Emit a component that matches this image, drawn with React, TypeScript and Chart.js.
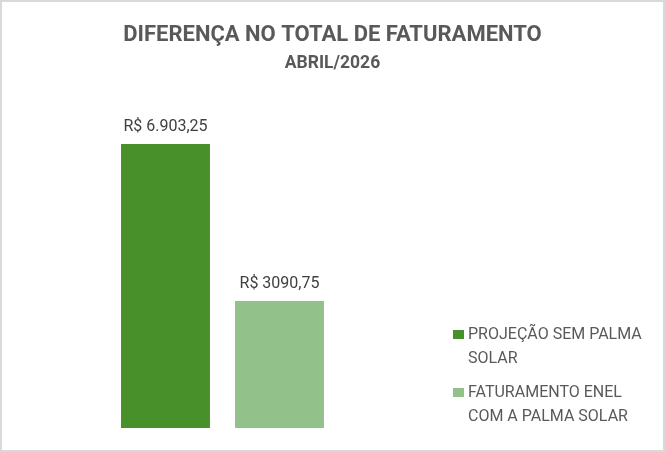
import React, { useEffect, useRef } from "react";
import { Chart, registerables } from "chart.js";

Chart.register(...registerables);

const categories: string[] = ["ABRIL/2026"];
const seriesNames: string[][] = [
  ["PROJEÇÃO SEM PALMA", "SOLAR"],
  ["FATURAMENTO ENEL", "COM A PALMA SOLAR"],
];
const projecaoValues: number[] = [6903.25];
const enelValues: number[] = [3090.75];
const valueLabels: string[][] = [["R$ 6.903,25"], ["R$ 3090,75"]];
const seriesColors: string[] = ["#47902A", "#93C18A"];
const titleText = "DIFERENÇA NO TOTAL DE FATURAMENTO";
const subtitleText = "ABRIL/2026";

const FONT = "Roboto, 'Liberation Sans', sans-serif";

const headerPlugin = {
  id: "header",
  afterDraw(chart: any) {
    const ctx = chart.ctx;
    const cx = chart.width / 2;
    ctx.save();
    ctx.fillStyle = "#595959";
    ctx.textAlign = "center";
    ctx.textBaseline = "alphabetic";
    ctx.font = `bold 22px ${FONT}`;
    ctx.fillText(titleText, cx, 38.7);
    ctx.font = `bold 17.5px ${FONT}`;
    ctx.fillText(subtitleText, cx, 66.3);
    ctx.restore();
  },
};

const valueLabelPlugin = {
  id: "valueLabels",
  afterDatasetsDraw(chart: any) {
    const ctx = chart.ctx;
    ctx.save();
    ctx.font = `16px ${FONT}`;
    ctx.fillStyle = "#404040";
    ctx.textAlign = "center";
    ctx.textBaseline = "alphabetic";
    chart.data.datasets.forEach((ds: any, i: number) => {
      const meta = chart.getDatasetMeta(i);
      meta.data.forEach((bar: any, j: number) => {
        const txt = valueLabels[i][j];
        ctx.fillText(txt, bar.x, bar.y - 13);
      });
    });
    ctx.restore();
  },
};

const sideLegendPlugin = {
  id: "sideLegend",
  afterDraw(chart: any) {
    const ctx = chart.ctx;
    const area = chart.chartArea;
    const boxX = area.right + 28;
    const textX = boxX + 15;
    const lineH = 23.4;
    const itemGap = 11.2;
    let y = 337.3; // baseline of first line
    ctx.save();
    ctx.font = `16px ${FONT}`;
    ctx.textAlign = "left";
    ctx.textBaseline = "alphabetic";
    chart.data.datasets.forEach((ds: any, i: number) => {
      ctx.fillStyle = ds.backgroundColor;
      ctx.fillRect(boxX, y - 9.3, 11, 9);
      ctx.fillStyle = "#595959";
      const lines: string[] = ds.legendLines;
      lines.forEach((ln: string, k: number) => {
        ctx.fillText(ln, textX, y + k * lineH);
      });
      y += lines.length * lineH + itemGap;
    });
    ctx.restore();
  },
};

export default function App() {
  const canvasRef = useRef<HTMLCanvasElement | null>(null);

  useEffect(() => {
    document.body.style.margin = "0";
    const canvas = canvasRef.current;
    if (!canvas) return;
    const chart = new Chart(canvas, {
      type: "bar",
      data: {
        labels: categories,
        datasets: [
          {
            label: seriesNames[0].join(" "),
            data: projecaoValues,
            backgroundColor: seriesColors[0],
            borderWidth: 0,
            categoryPercentage: 0.563,
            barPercentage: 0.78,
            legendLines: seriesNames[0],
          } as any,
          {
            label: seriesNames[1].join(" "),
            data: enelValues,
            backgroundColor: seriesColors[1],
            borderWidth: 0,
            categoryPercentage: 0.563,
            barPercentage: 0.78,
            legendLines: seriesNames[1],
          } as any,
        ],
      },
      options: {
        responsive: false,
        animation: false,
        layout: { padding: { top: 97, left: 18, right: 238, bottom: 22 } },
        scales: {
          x: { display: false },
          y: { display: false, min: 0, max: 8000 },
        },
        plugins: {
          legend: { display: false },
          tooltip: { enabled: false },
          title: { display: false },
        },
      },
      plugins: [valueLabelPlugin, sideLegendPlugin, headerPlugin],
    });
    return () => chart.destroy();
  }, []);

  return (
    <div
      style={{
        position: "absolute",
        left: 0,
        top: 0,
        width: 665,
        height: 452,
        boxSizing: "border-box",
        border: "2px solid #d9d9d9",
        background: "#ffffff",
      }}
    >
      <canvas ref={canvasRef} width={661} height={448} style={{ display: "block" }} />
    </div>
  );
}
